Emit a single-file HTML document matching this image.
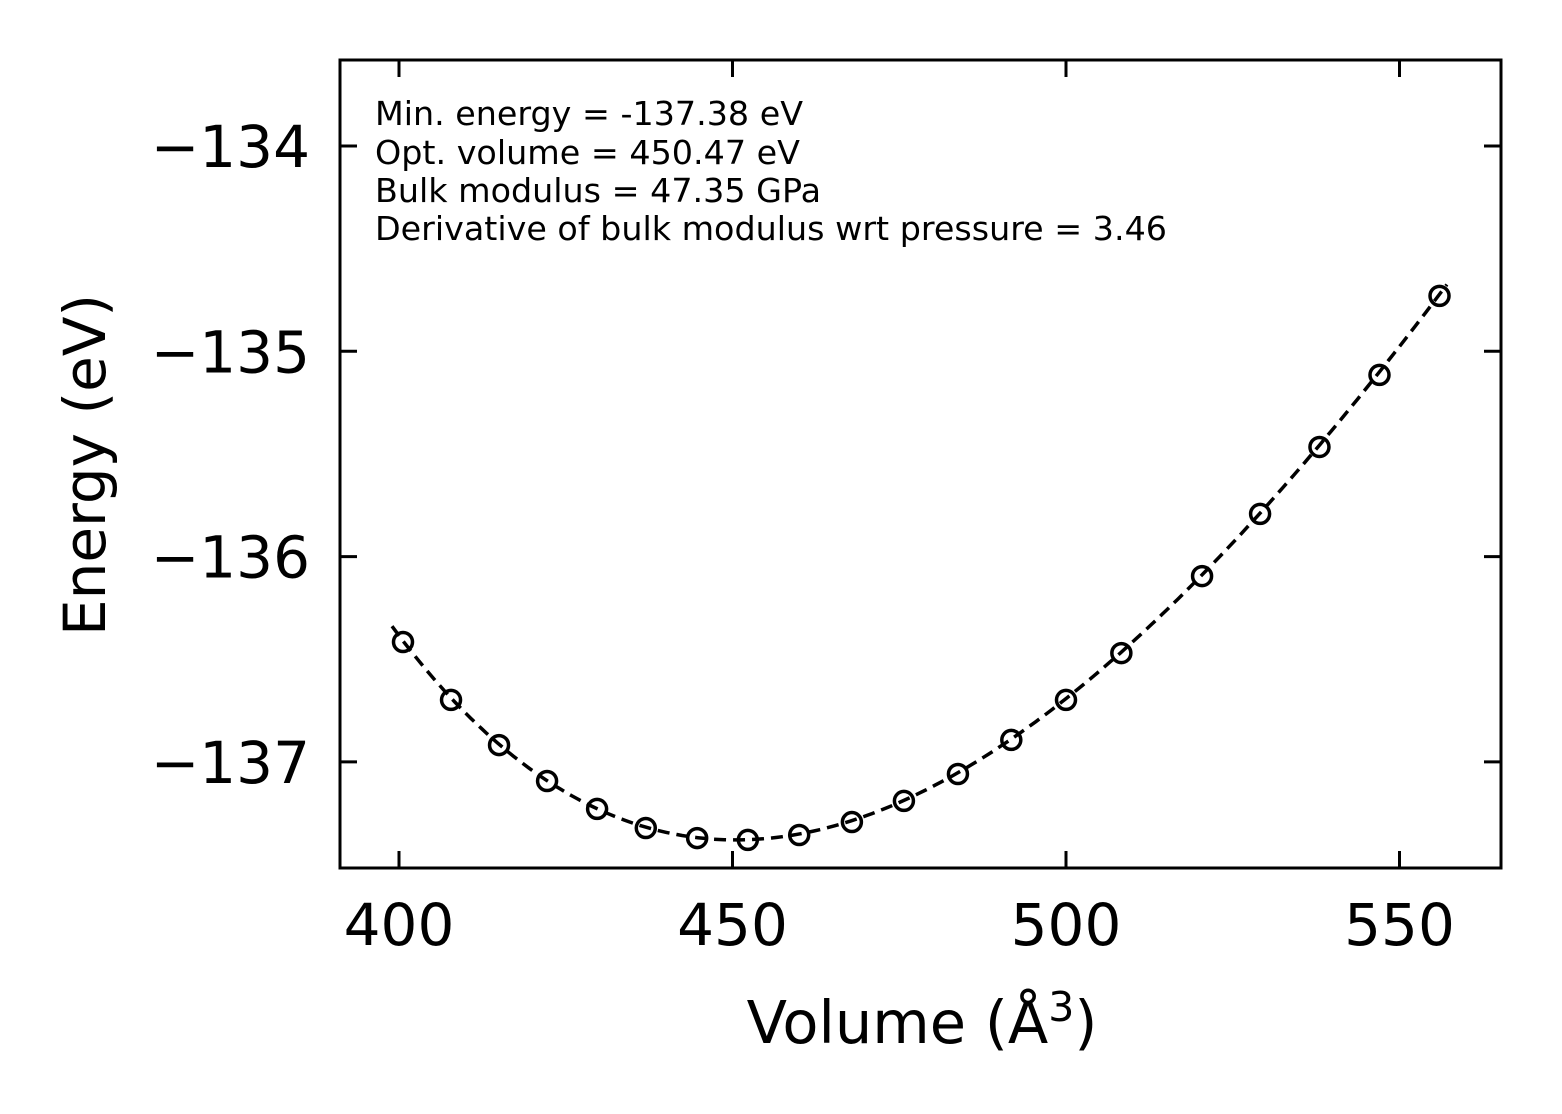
<!DOCTYPE html>
<html><head><meta charset="utf-8"><style>
html,body{margin:0;padding:0;background:#fff;}
svg{display:block;font-family:"DejaVu Sans","Liberation Sans",sans-serif;}
</style></head><body>
<svg id="chart" width="1562" height="1114" viewBox="0 0 1562 1114" xmlns="http://www.w3.org/2000/svg">
<rect width="1562" height="1114" fill="#fff"/>
<g id="ticks"></g>
<path id="fit" fill="none" stroke="#000" stroke-width="3.5" stroke-dasharray="12,7"/>
<g id="points"></g>
<rect x="340" y="60" width="1161" height="808" fill="none" stroke="#000" stroke-width="3"/>
<g font-size="33" fill="#000">
<text x="375" y="125" textLength="428" lengthAdjust="spacingAndGlyphs">Min. energy = -137.38 eV</text>
<text x="375" y="164" textLength="425" lengthAdjust="spacingAndGlyphs">Opt. volume = 450.47 eV</text>
<text x="375" y="202" textLength="446" lengthAdjust="spacingAndGlyphs">Bulk modulus = 47.35 GPa</text>
<text x="375" y="240" textLength="792" lengthAdjust="spacingAndGlyphs">Derivative of bulk modulus wrt pressure = 3.46</text>
</g>
<text x="922" y="1043" font-size="59" text-anchor="middle">Volume (Å<tspan dy="-22" font-size="41">3</tspan><tspan dy="22">)</tspan></text>
<text transform="translate(105,465) rotate(-90)" font-size="58" text-anchor="middle">Energy (eV)</text>
</svg>
<script>
const volumes=[400.6,407.8,415.0,422.2,429.7,437.0,444.7,452.3,460.0,467.9,475.7,483.8,491.8,500.0,508.3,520.4,529.1,538.0,547.0,556.0];
const energies=[-136.416,-136.698,-136.918,-137.093,-137.229,-137.322,-137.371,-137.380,-137.356,-137.293,-137.190,-137.059,-136.893,-136.698,-136.470,-136.095,-135.792,-135.466,-135.115,-134.730];
const xTicks=[400,450,500,550];
const yTicks=[-134,-135,-136,-137];
const E0=-137.38, V0=450.47, B0GPa=47.35, Bp=3.46;
const fitRange=[398.95,557.1];
const X=v=>399+(v-400)*6.67;
const Y=e=>146+(-134-e)*205.3;
const NS="http://www.w3.org/2000/svg";
const tg=document.getElementById('ticks');
function mk(t,a){const el=document.createElementNS(NS,t);for(const k in a)el.setAttribute(k,a[k]);return el;}
xTicks.forEach(v=>{
  const x=X(v);
  const t1=mk('line',{x1:x,x2:x,y1:868,y2:851,stroke:'#000','stroke-width':3});
  
  
  tg.appendChild(t1);
  const t2=mk('line',{x1:x,x2:x,y1:60,y2:77,stroke:'#000','stroke-width':3});
  
  
  tg.appendChild(t2);
  const lb=mk('text',{x:x,y:945,'font-size':58,'text-anchor':'middle'});
  lb.textContent=v;
  
  
  tg.appendChild(lb);
});
yTicks.forEach(v=>{
  const y=Y(v);
  const t1=mk('line',{x1:340,x2:357,y1:y,y2:y,stroke:'#000','stroke-width':3});
  
  
  tg.appendChild(t1);
  const t2=mk('line',{x1:1501,x2:1484,y1:y,y2:y,stroke:'#000','stroke-width':3});
  
  
  tg.appendChild(t2);
  const lb=mk('text',{x:310,y:y+21,'font-size':58,'text-anchor':'end'});
  lb.textContent='\u2212'+Math.abs(v);
  
  
  tg.appendChild(lb);
});
const B0=B0GPa/160.2177;
function bm(V){const eta=Math.pow(V0/V,2/3);const d=eta-1;return E0+9*V0*B0/16*(d*d*d*Bp+d*d*(6-4*eta));}
let d='';
for(let i=0;i<=200;i++){const v=fitRange[0]+(fitRange[1]-fitRange[0])*i/200;d+=(i?'L':'M')+X(v).toFixed(1)+','+Y(bm(v)).toFixed(1);}
document.getElementById('fit').setAttribute('d',d);
const pg=document.getElementById('points');
volumes.forEach((v,i)=>{
  const c=mk('circle',{cx:X(v),cy:Y(energies[i]),r:9.5,fill:'none',stroke:'#000','stroke-width':3.5});
  
  
  pg.appendChild(c);
});
</script>
</body></html>
